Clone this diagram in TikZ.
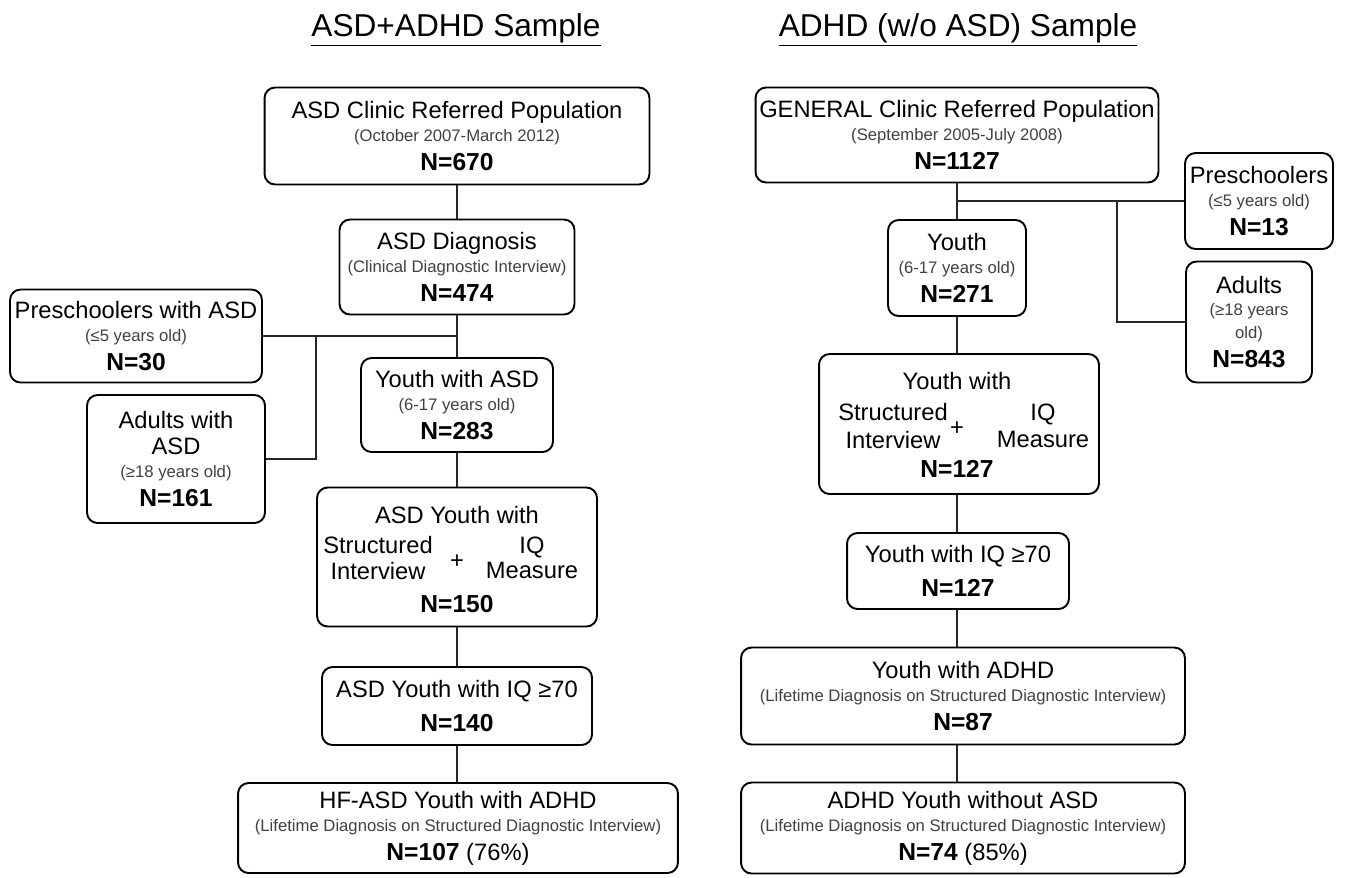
\documentclass[tikz,border=0pt]{standalone}
\usepackage{fontspec}
\setmainfont{Liberation Sans}
\newcommand{\subt}[1]{{\fontsize{9.5}{14.5}\selectfont\color{black!75}#1}}
\newcommand{\ncount}[1]{{\fontsize{14}{14.5}\selectfont\bfseries N=#1}}

\begin{document}
\begin{tikzpicture}[x=0.02cm, y=-0.02cm,
    box/.style={draw, line width=1.1pt, rounded corners=6pt, align=center, inner sep=0pt, font=\fontsize{13.5}{14.5}\selectfont},
    txt/.style={align=center, inner sep=0pt, font=\fontsize{13.5}{14.5}\selectfont},
    ttl/.style={inner sep=0pt, font=\fontsize{18}{20}\selectfont},
    link/.style={line width=1pt, draw=black!85}]
    \useasboundingbox (0,0) rectangle (1345,877);
    % titles
    \node[ttl] (ttlA) at (456,30) {\underline{ASD+ADHD Sample}};
    \node[ttl] (ttlB) at (958,30) {\underline{ADHD (w/o ASD) Sample}};
    % ASD+ADHD sample
    \node[box, minimum width=7.7cm, minimum height=1.94cm] (asdpop) at (457,136) {ASD Clinic Referred Population\\[-1.5pt]\subt{(October 2007-March 2012)}\\[2pt]\ncount{670}};
    \node[box, minimum width=4.7cm, minimum height=1.9cm] (asddx) at (457,267) {ASD Diagnosis\\[-1.5pt]\subt{(Clinical Diagnostic Interview)}\\[2pt]\ncount{474}};
    \node[box, minimum width=5.04cm, minimum height=1.86cm] (asdpre) at (136,336) {Preschoolers with ASD\\[-1.5pt]\subt{(≤5 years old)}\\[2pt]\ncount{30}};
    \node[box, minimum width=3.56cm, minimum height=2.56cm] (asdadult) at (176,459) {Adults with\\ASD\\[-1.5pt]\subt{(≥18 years old)}\\[2pt]\ncount{161}};
    \node[box, minimum width=3.84cm, minimum height=1.88cm] (asdyouth) at (457,405) {Youth with ASD\\[-1.5pt]\subt{(6-17 years old)}\\[2pt]\ncount{283}};
    \node[box, minimum width=5.6cm, minimum height=2.78cm] (asdsi) at (457,557) {};
    \node[txt] (asdsiA) at (457,515) {ASD Youth with};
    \node[txt] (asdsiB) at (378,558) {Structured\\Interview};
    \node[txt] (asdsiC) at (457,562) {+};
    \node[txt] (asdsiD) at (532,558) {IQ\\Measure};
    \node[txt] (asdsiE) at (457,604) {\ncount{150}};
    \node[box, minimum width=5.4cm, minimum height=1.56cm] (asdiq) at (457,706) {ASD Youth with IQ ≥70\\[5pt]\ncount{140}};
    \node[box, minimum width=8.8cm, minimum height=1.8cm] (asdfin) at (458,828) {HF-ASD Youth with ADHD\\[-1.5pt]\subt{(Lifetime Diagnosis on Structured Diagnostic Interview)}\\[2pt]\ncount{107} (76\%)};
    \coordinate (asdbr) at (316,0);
    \draw[link] (asdpop) -- (asddx);
    \draw[link] (asddx) -- (asdyouth);
    \draw[link] (asdpre.east) -- (asdpre.east -| asddx.south);
    \draw[link] (asdbr |- asdpre.east) |- (asdadult.east);
    \draw[link] (asdyouth) -- (asdsi);
    \draw[link] (asdsi) -- (asdiq);
    \draw[link] (asdiq) -- (asdfin.north -| asdiq.south);
    % ADHD (w/o ASD) sample
    \node[box, minimum width=8.06cm, minimum height=1.9cm] (genpop) at (957,135) {GENERAL Clinic Referred Population\\[-1.5pt]\subt{(September 2005-July 2008)}\\[2pt]\ncount{1127}};
    \node[box, minimum width=2.96cm, minimum height=1.92cm] (genpre) at (1259,201) {Preschoolers\\[-1.5pt]\subt{(≤5 years old)}\\[2pt]\ncount{13}};
    \node[box, minimum width=2.52cm, minimum height=2.42cm] (genadult) at (1249,322) {Adults\\[-1.5pt]\subt{(≥18 years}\\[-1.5pt]\subt{old)}\\[2pt]\ncount{843}};
    \node[box, minimum width=2.76cm, minimum height=1.92cm] (genyouth) at (957,268) {Youth\\[-1.5pt]\subt{(6-17 years old)}\\[2pt]\ncount{271}};
    \node[box, minimum width=5.6cm, minimum height=2.8cm] (gensi) at (959,424) {};
    \node[txt] (gensiA) at (957,381) {Youth with};
    \node[txt] (gensiB) at (893,426) {Structured\\[1pt]Interview};
    \node[txt] (gensiC) at (957,429) {+};
    \node[txt] (gensiD) at (1043,426) {IQ\\[1pt]Measure};
    \node[txt] (gensiE) at (957,469) {\ncount{127}};
    \node[box, minimum width=4.44cm, minimum height=1.52cm] (geniq) at (958,571) {Youth with IQ ≥70\\[5pt]\ncount{127}};
    \node[box, minimum width=8.88cm, minimum height=1.94cm] (genadhd) at (963,696) {Youth with ADHD\\[-1.5pt]\subt{(Lifetime Diagnosis on Structured Diagnostic Interview)}\\[2pt]\ncount{87}};
    \node[box, minimum width=8.88cm, minimum height=1.82cm] (genfin) at (963,828) {ADHD Youth without ASD\\[-1.5pt]\subt{(Lifetime Diagnosis on Structured Diagnostic Interview)}\\[2pt]\ncount{74} (85\%)};
    \coordinate (genbr) at (1117,0);
    \draw[link] (genpop.south -| genyouth.north) -- (genyouth.north);
    \draw[link] (genpre.west -| genyouth.north) -- (genpre.west);
    \draw[link] (genbr |- genpre.west) |- (genadult.west);
    \draw[link] (genyouth.south) -- (genyouth.south |- gensi.north);
    \draw[link] (genyouth.south |- gensi.south) -- (genyouth.south |- geniq.north);
    \draw[link] (genyouth.south |- geniq.south) -- (genyouth.south |- genadhd.north);
    \draw[link] (genyouth.south |- genadhd.south) -- (genyouth.south |- genfin.north);
\end{tikzpicture}
\end{document}
